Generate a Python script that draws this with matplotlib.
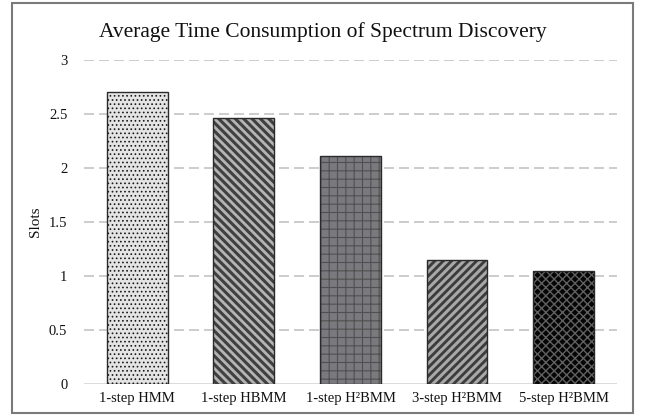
import matplotlib
matplotlib.use('Agg')
import matplotlib.pyplot as plt
from matplotlib.patches import Rectangle

# Data
methods = ['1-step HMM', '1-step HBMM', '1-step H\u00b2BMM', '3-step H\u00b2BMM', '5-step H\u00b2BMM']
slots = [2.70, 2.46, 2.11, 1.15, 1.05]
y_ticks = [0, 0.5, 1, 1.5, 2, 2.5, 3]
y_tick_labels = ['0', '0.5', '1', '1.5', '2', '2.5', '3']

# Excel-like pattern fills: face, hatch, hatch colour, hatch line width
face_colors = ['#e4e4e4', '#b4b4b4', '#7a7a7e', '#3c3c3c', '#050505']
hatches = ['....', '\\\\\\\\', '++', '////', 'xxxx']
hatch_colors = ['#1a1a1a', '#404040', '#505050', '#a8a8a8', '#606060']
hatch_widths = [0.7, 2.2, 0.8, 2.2, 1.0]

plt.rcParams['font.family'] = ['Liberation Serif', 'DejaVu Serif']

fig = plt.figure(figsize=(6.46, 4.16), dpi=100)
ax = fig.add_axes([0.130, 0.077, 0.825, 0.779])

x = list(range(len(methods)))
width = 0.57

# dashed grid behind the bars
for t in y_ticks[1:]:
    ax.axhline(t, color='#c4c4c4', linewidth=1.2, linestyle=(0, (6, 3)), zorder=0)
ax.axhline(0, color='#d4d4d4', linewidth=1.2, zorder=0)

for i in x:
    with plt.rc_context({'hatch.linewidth': hatch_widths[i]}):
        ax.bar(i, slots[i], width, color=face_colors[i], hatch=hatches[i],
               edgecolor=hatch_colors[i], linewidth=0, zorder=2)
    ax.bar(i, slots[i], width, fill=False, edgecolor='#2a2a2a', linewidth=1.0, zorder=3)

ax.set_xlim(-0.5, len(methods) - 0.5)
ax.set_ylim(0, 3)
ax.set_yticks(y_ticks)
ax.set_yticklabels(y_tick_labels)
ax.set_xticks(x)
ax.set_xticklabels(methods)
ax.tick_params(axis='both', length=0, labelsize=10.5, colors='#111111')
ax.tick_params(axis='y', pad=12)
ax.tick_params(axis='x', pad=6)
for s in ax.spines.values():
    s.set_visible(False)

ax.set_ylabel('Slots', fontsize=11, color='#111111', labelpad=4)
ax.yaxis.set_label_coords(-0.078, 0.5)

fig.text(0.5, 0.923, 'Average Time Consumption of Spectrum Discovery',
         ha='center', va='center', fontsize=15.5, color='#111111')

# chart border
fig.patches.append(Rectangle((12 / 646, 3 / 416), 621 / 646, 410 / 416,
                             transform=fig.transFigure, fill=False,
                             edgecolor='#7a7a7a', linewidth=1.5))

fig.savefig('out.png', dpi=100)
